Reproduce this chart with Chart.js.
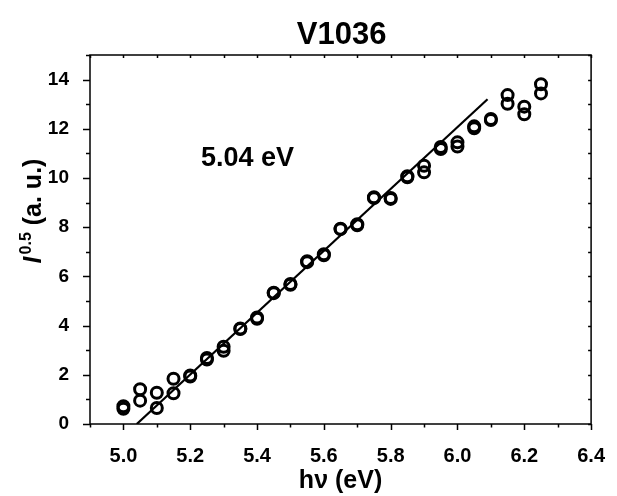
<!DOCTYPE html>
<html>
<head>
<meta charset="utf-8">
<script src="https://cdn.jsdelivr.net/npm/chart.js@4/dist/chart.umd.min.js"></script>
<style>
  html, body { margin: 0; padding: 0; background: #fff; }
  canvas { display: block; }
</style>
</head>
<body>
<canvas id="chart" width="617" height="496"></canvas>
<script>
// photon energy (eV), two readings per energy
const energies = [5.00, 5.05, 5.10, 5.15, 5.20, 5.25, 5.30, 5.35, 5.40, 5.45, 5.50, 5.55, 5.60,
                  5.65, 5.70, 5.75, 5.80, 5.85, 5.90, 5.95, 6.00, 6.05, 6.10, 6.15, 6.20, 6.25];
const seriesA = [0.72, 1.41, 1.27, 1.84, 1.97, 2.68, 3.14, 3.88, 4.33, 5.34, 5.69, 6.62, 6.90,
                 7.94, 8.12, 9.22, 9.19, 10.07, 10.50, 11.26, 11.45, 12.10, 12.40, 13.37, 12.90, 13.81];
const seriesB = [0.62, 0.95, 0.65, 1.25, 1.93, 2.62, 2.98, 3.86, 4.28, 5.32, 5.66, 6.58, 6.86,
                 7.92, 8.08, 9.18, 9.15, 10.03, 10.23, 11.18, 11.28, 12.02, 12.36, 13.02, 12.59, 13.44];
// linear fit, threshold at 5.04 eV
const fitX = [5.04, 6.09];
const fitY = [0, 13.2];

const xTicks = [5.0, 5.2, 5.4, 5.6, 5.8, 6.0, 6.2, 6.4];
const yTicks = [0, 2, 4, 6, 8, 10, 12, 14];

const FONT = "'Liberation Sans', Arial, sans-serif";

function toPoints(xs, ys) {
    return xs.map((x, i) => ({ x: x, y: ys[i] }));
}

function circleSet(ys) {
    return {
        data: toPoints(energies, ys),
        pointStyle: 'circle',
        pointRadius: 5.5,
        borderWidth: 3,
        borderColor: '#000',
        backgroundColor: 'rgba(0,0,0,0)',
        showLine: false
    };
}

// frame, ticks (major + minor) and the extra texts
const decorations = {
    id: 'decorations',
    afterDraw(chart) {
        const ctx = chart.ctx;
        const a = chart.chartArea;
        const xs = chart.scales.x, ys = chart.scales.y;
        ctx.save();
        ctx.strokeStyle = '#000';
        ctx.lineWidth = 1.5;
        ctx.strokeRect(a.left, a.top, a.right - a.left, a.bottom - a.top);

        ctx.beginPath();
        for (let i = 0; i <= 15; i++) {
            const v = 4.9 + i * 0.1;
            const px = Math.round(xs.getPixelForValue(v)) + 0.5;
            const major = i % 2 === 1;
            ctx.moveTo(px, a.bottom);
            ctx.lineTo(px, a.bottom + (major ? 6 : 3.5));
            ctx.moveTo(px, a.top);
            ctx.lineTo(px, a.top + 3);
        }
        for (let v = 0; v <= 15; v++) {
            const py = Math.round(ys.getPixelForValue(v)) + 0.5;
            const major = v % 2 === 0;
            ctx.moveTo(a.left, py);
            ctx.lineTo(a.left - (major ? 7 : 4), py);
            ctx.moveTo(a.right, py);
            ctx.lineTo(a.right - 3, py);
        }
        ctx.stroke();

        ctx.fillStyle = '#000';
        // title
        ctx.textAlign = 'center';
        ctx.textBaseline = 'alphabetic';
        ctx.font = 'bold 31px ' + FONT;
        ctx.fillText('V1036', (a.left + a.right) / 2 + 1, 44);

        // x title
        ctx.font = 'bold 25px ' + FONT;
        ctx.fillText('h\u03bd (eV)', (a.left + a.right) / 2, 488);

        // annotation
        ctx.textAlign = 'left';
        ctx.font = 'bold 27px ' + FONT;
        ctx.fillText('5.04 eV', 201, 166);

        // y title: I^0.5 (a. u.)
        ctx.translate(41, 211);
        ctx.rotate(-Math.PI / 2);
        const big = 'bold 25px ' + FONT;
        const ital = 'italic bold 25px ' + FONT;
        const sup = 'bold 16px ' + FONT;
        ctx.font = ital; const wI = ctx.measureText('I').width;
        ctx.font = sup; const wS = ctx.measureText('0.5').width;
        ctx.font = big; const wR = ctx.measureText(' (a. u.)').width;
        let x0 = -(wI + wS + 2 + wR) / 2;
        ctx.font = ital; ctx.fillText('I', x0, 0);
        x0 += wI + 2;
        ctx.font = sup; ctx.fillText('0.5', x0, -10);
        x0 += wS;
        ctx.font = big; ctx.fillText(' (a. u.)', x0, 0);
        ctx.restore();
    }
};

new Chart(document.getElementById('chart'), {
    type: 'scatter',
    data: {
        datasets: [
            circleSet(seriesA),
            circleSet(seriesB),
            {
                type: 'line',
                data: toPoints(fitX, fitY),
                borderColor: '#000',
                borderWidth: 2.2,
                pointRadius: 0,
                fill: false
            }
        ]
    },
    options: {
        responsive: false,
        animation: false,
        devicePixelRatio: 1,
        layout: { padding: { left: 0, right: 16, top: 55, bottom: 0 } },
        plugins: { legend: { display: false }, tooltip: { enabled: false } },
        scales: {
            x: {
                type: 'linear',
                min: 4.9,
                max: 6.4,
                afterFit: s => { s.height = 72; },
                afterBuildTicks: s => { s.ticks = xTicks.map(v => ({ value: v })); },
                grid: { display: false },
                border: { display: false },
                ticks: {
                    color: '#000',
                    padding: 12,
                    maxRotation: 0,
                    font: { family: FONT, size: 20, weight: 'bold' },
                    callback: v => v.toFixed(1)
                }
            },
            y: {
                type: 'linear',
                min: 0,
                max: 15,
                afterFit: s => { s.width = 90; },
                afterBuildTicks: s => { s.ticks = yTicks.map(v => ({ value: v })); },
                grid: { display: false },
                border: { display: false },
                ticks: {
                    color: '#000',
                    padding: 13,
                    font: { family: FONT, size: 19, weight: 'bold' },
                    callback: v => String(v)
                }
            }
        }
    },
    plugins: [decorations]
});
</script>
</body>
</html>
